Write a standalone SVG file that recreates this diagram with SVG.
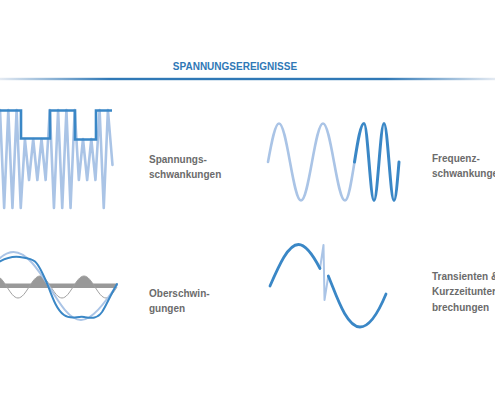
<svg xmlns="http://www.w3.org/2000/svg" width="495" height="400" viewBox="0 0 495 400">
<defs>
<linearGradient id="rule" x1="0" y1="0" x2="1" y2="0">
<stop offset="0" stop-color="#e4eaf2"/>
<stop offset="0.22" stop-color="#2f78b6"/>
<stop offset="0.78" stop-color="#2f78b6"/>
<stop offset="1" stop-color="#e4eaf2"/>
</linearGradient>
</defs>
<style>
.title{font-family:"Liberation Sans",Arial,sans-serif;font-weight:bold;font-size:10px;fill:#2f78b6}
.lbl{font-family:"Liberation Sans",Arial,sans-serif;font-weight:bold;font-size:10px;fill:#6b6b6b}
.dark{fill:none;stroke:#3a87c6;stroke-width:2.6;stroke-linejoin:round;stroke-linecap:round}
.light{fill:none;stroke:#aac4e6;stroke-width:2.6;stroke-linejoin:round;stroke-linecap:round}
.thin{fill:none;stroke:#a0a0a0;stroke-width:1}
</style>
<rect width="495" height="400" fill="#ffffff"/>
<text class="title" x="235" y="70" text-anchor="middle">SPANNUNGSEREIGNISSE</text>
<rect x="0" y="77.8" width="495" height="2.4" fill="url(#rule)"/>

<g id="spannungsschwankungen">
<path class="light" d="M-4.15,208 L0,110 L4.15,208 L8.3,110 L12.45,208 L16.6,110 L20.75,208 L24.9,139 L29.05,180 L33.2,139 L37.35,180 L41.5,139 L45.65,180 L49.8,110 L53.95,208 L58.1,110 L62.25,208 L66.4,110 L70.55,208 L74.7,110 L78.85,180 L83,139 L87.15,180 L91.3,139 L95.45,180 L99.6,110 L103.75,208 L107.9,110 L112.5,165"/>
<path class="dark" style="stroke-linecap:butt;stroke-linejoin:miter" d="M0,110.5 H21 V138.5 H50 V110.5 H75 V139.5 H96 V110.5 H112"/>
<text class="lbl" x="149" y="163">Spannungs-</text>
<text class="lbl" x="149" y="178">schwankungen</text>
</g>

<g id="frequenzschwankungen">
<path class="light" d="M268,162 C271.59,142.29 275.02,123.5 279,123.5 C282.98,123.5 286.41,142.29 290,162 C293.59,181.71 297.02,200.5 301,200.5 C304.98,200.5 308.41,181.71 312,162 C315.59,142.29 319.02,123.5 323,123.5 C326.98,123.5 330.41,142.29 334,162 C337.59,181.71 341.02,200.5 345,200.5 C348.44,200.5 351.4,181.71 354.5,162"/>
<path class="dark" style="stroke-width:3" d="M354.5,162 C357.6,142.29 360.56,123.5 364,123.5 C365.81,123.5 367.37,142.29 369,162 C370.63,181.71 372.19,200.5 374,200.5 C375.81,200.5 377.37,181.71 379,162 C380.63,142.29 382.19,123.5 384,123.5 C385.81,123.5 387.37,142.29 389,162 C390.63,181.71 392.19,200.5 394,200.5 C395.81,200.5 397.37,181.71 399,162"/>
<text class="lbl" x="432" y="162">Frequenz-</text>
<text class="lbl" x="432" y="177">schwankungen</text>
</g>

<g id="oberschwingungen">
<rect x="0" y="283.5" width="117" height="4.5" fill="#999999"/>
<path fill="#999999" d="M-4,276 C-0.02,276 3.41,281.37 7,287 L-4,287 Z M29,287 C32.59,281.37 36.02,276 40,276 C43.98,276 47.41,281.37 51,287 Z M73,287 C76.59,281.37 80.02,276 84,276 C87.98,276 91.41,281.37 95,287 Z"/>
<path class="thin" d="M-4,276 C-0.02,276 3.41,281.37 7,287 C10.59,292.63 14.02,298 18,298 C21.98,298 25.41,292.63 29,287 C32.59,281.37 36.02,276 40,276 C43.98,276 47.41,281.37 51,287 C54.59,292.63 58.02,298 62,298 C65.98,298 69.41,292.63 73,287 C76.59,281.37 80.02,276 84,276 C87.98,276 91.41,281.37 95,287 C98.59,292.63 102.02,298 106,298 C109.98,298 113.41,292.63 117,287"/>
<path class="light" style="stroke-width:2" d="M-22.5,287 C-10.76,269.08 0.47,252 13.5,252 C26.53,252 37.76,269.08 49.5,287 C59.77,303.9 69.6,320 81,320 C92,320 104,304 117,285"/>
<path class="dark" style="stroke-width:2" d="M0,261.5 C6,258 12,256 20,257 C27,258 31,258 35,261.5 C40,266 44,276 48.5,287 C53,299 57,310 64,315 C71,320 77,316 84,317 C92,318 97,319 102,312 C106,306 110,296 117,284"/>
<text class="lbl" x="149" y="297">Oberschwin-</text>
<text class="lbl" x="149" y="312">gungen</text>
</g>

<g id="transienten">
<path class="light" style="stroke-width:2" d="M320,268.5 L323.5,245 L324.5,300 L328.3,276"/>
<path class="dark" style="stroke-width:2.8" d="M270,286 C279.29,264.75 288.18,244.5 298.5,244.5 C306,244.5 313,255 320,268.5"/>
<path class="dark" style="stroke-width:2.8" d="M328.3,276 C336,294 346,327 360,327 C370,327 379,311 386,294"/>
<text class="lbl" x="432" y="280">Transienten &amp;</text>
<text class="lbl" x="432" y="295">Kurzzeitunter</text>
<text class="lbl" x="432" y="311">brechungen</text>
</g>
</svg>
